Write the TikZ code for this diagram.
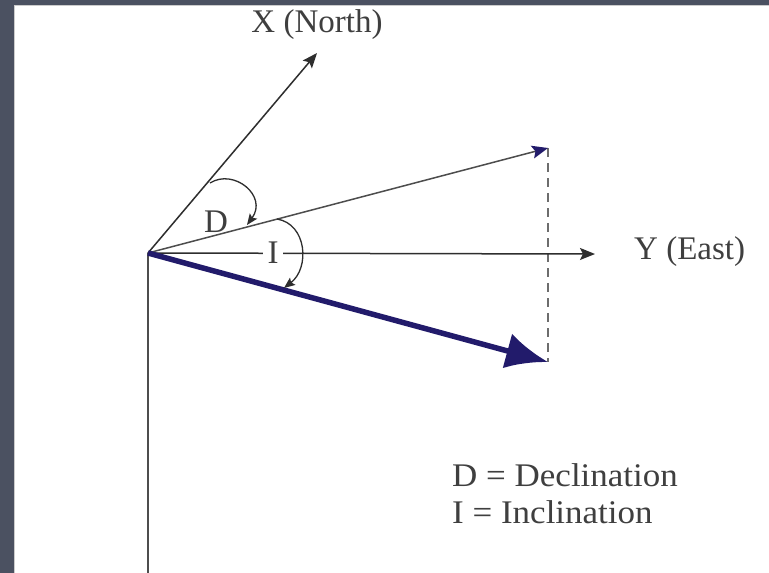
\documentclass[tikz,border=0pt]{standalone}
\usepackage{fontspec}
\setmainfont{Liberation Serif}
\usetikzlibrary{arrows.meta}
\definecolor{bgdark}{HTML}{4B5161}
\definecolor{navy}{HTML}{221B6B}
\definecolor{ink}{HTML}{2E2E2E}
\definecolor{txt}{HTML}{3F3F3F}
\begin{document}
\begin{tikzpicture}[x=1pt,y=-1pt,
  lbl/.style={text=txt,font=\fontsize{33}{37}\selectfont,inner sep=0pt},
  axis/.style={draw=ink,line width=1.5pt},
  anglearc/.style={draw=ink,line width=1.3pt,-{Stealth[length=11pt,width=9pt,inset=2pt]}}]
\useasboundingbox (0,0) rectangle (769,573);
\fill[bgdark] (0,0) rectangle (769,573);
\fill[white] (14,5) rectangle (769,573);
\draw[gray!40,line width=0.8pt] (14.4,573) -- (14.4,5.4) -- (769,5.4);
% points
\coordinate (O) at (148,253);
\coordinate (Xt) at (317,53);
\coordinate (Yt) at (595,254);
\coordinate (Ht) at (548,148);
\coordinate (Ft) at (548,362);
\coordinate (Zb) at (148,573);
% vertical axis
\draw[draw=ink!85,line width=2pt] (O) -- (Zb);
% dashed projection
\draw[draw=ink!70,line width=2.8pt,dash pattern=on 9pt off 6pt] (Ht) -- (Ft);
% X axis
\draw[axis,-{Stealth[length=15pt,width=12pt,inset=3pt]}] (O) -- (Xt);
\node[lbl] (XL) at (317,25) {X (North)};
% Y axis
\draw[axis,-{Stealth[length=15pt,width=12pt,inset=3pt]}] (O) -- (Yt);
\node[lbl,anchor=west] (YL) at (634,252) {Y (East)};
% horizontal component
\draw[draw=ink!85,line width=1.5pt,-{Stealth[length=16pt,width=13pt,inset=3pt,color=navy]}] (O) -- (Ht);
% total field
\draw[draw=navy,line width=5.5pt,-{Latex[length=42pt,width=36pt]}] (O) -- (Ft);
% angle D
\coordinate (Da) at (210,183);
\coordinate (Db) at (247,225);
\draw[anglearc] (Da) .. controls (234,168) and (268,196) .. (Db);
\node[lbl] (DL) at (216,222) {D};
% angle I
\coordinate (Ia) at (277,219);
\coordinate (Ib) at (284,288);
\node[lbl,fill=white,inner xsep=5pt,inner ysep=2pt] (IL) at (273,253) {I};
\draw[anglearc] (Ia) .. controls (307,224) and (310,268) .. (Ib);
% legend
\node[lbl,anchor=north west,align=left,xscale=1.06] (LG) at (452,463) {D = Declination\\I = Inclination};
\end{tikzpicture}
\end{document}
